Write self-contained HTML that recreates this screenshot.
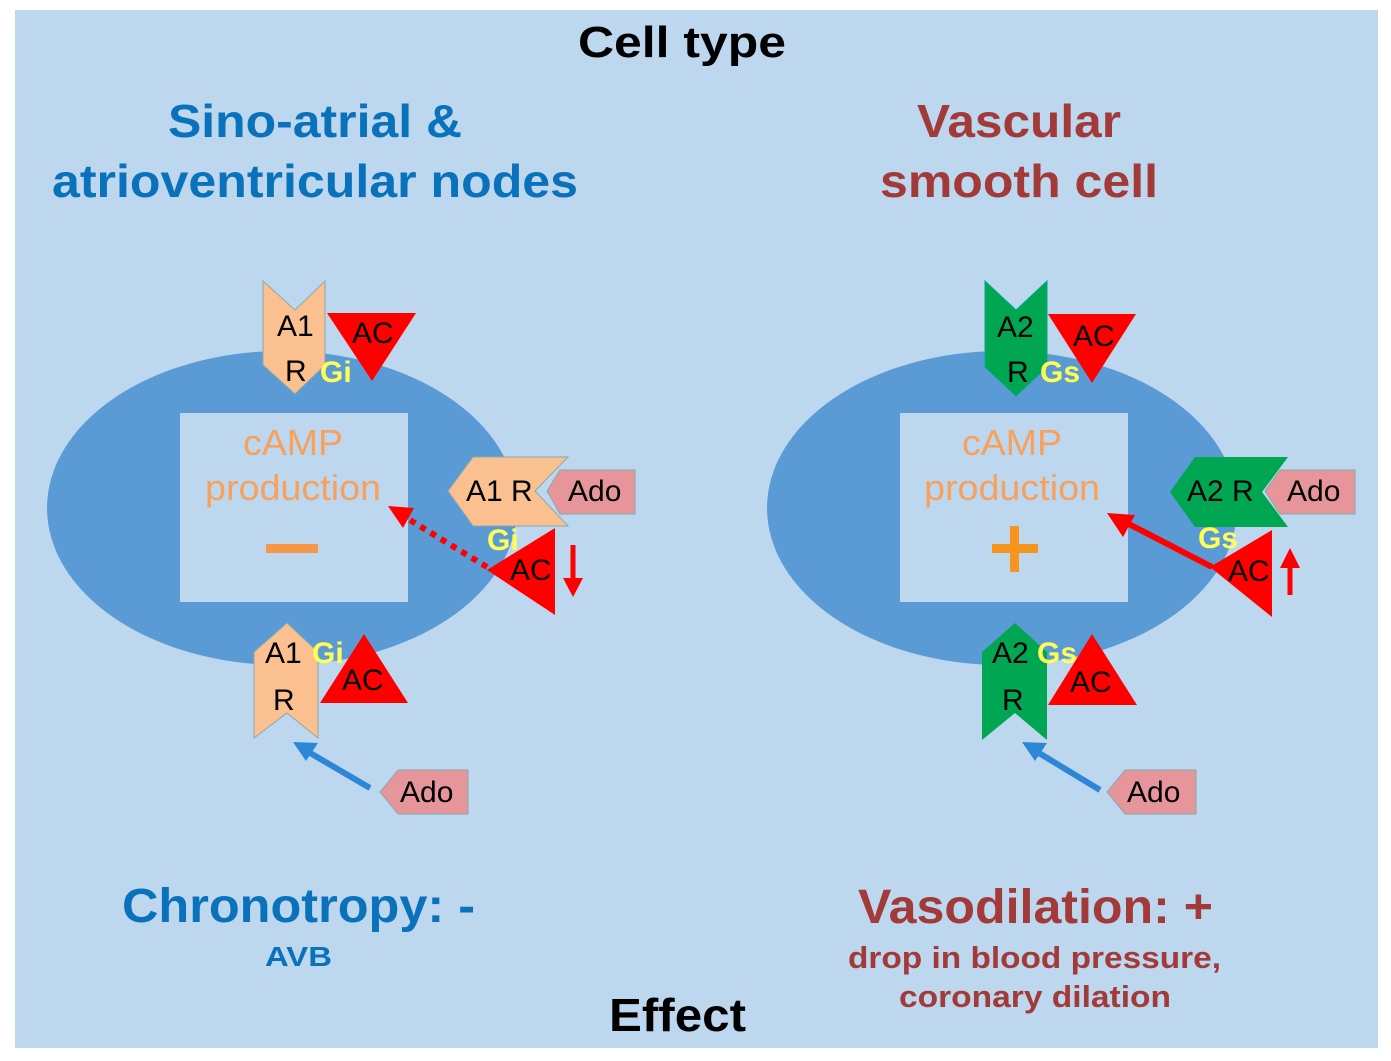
<!DOCTYPE html>
<html><head><style>body{margin:0;background:#fff}svg{display:block}text{font-family:"Liberation Sans",sans-serif}</style></head><body>
<svg width="1391" height="1061" viewBox="0 0 1391 1061">
<rect x="15" y="10" width="1363" height="1038" fill="#bdd7ee"/>
<text x="578" y="57" font-size="44" font-weight="bold" textLength="208" lengthAdjust="spacingAndGlyphs">Cell type</text>
<g font-weight="bold" font-size="46">
<text x="168" y="137" fill="#0a72bb" textLength="294" lengthAdjust="spacingAndGlyphs">Sino-atrial &amp;</text>
<text x="52" y="197" fill="#0a72bb" textLength="526" lengthAdjust="spacingAndGlyphs">atrioventricular nodes</text>
<text x="917" y="137" fill="#a33a3a" textLength="204" lengthAdjust="spacingAndGlyphs">Vascular</text>
<text x="880" y="197" fill="#a33a3a" textLength="278" lengthAdjust="spacingAndGlyphs">smooth cell</text>
</g>
<!-- left -->
<ellipse cx="282" cy="508" rx="235" ry="157" fill="#5b9bd5"/>
<rect x="180" y="413" width="228" height="189" fill="#bdd7ee"/>
<g fill="#f7a15c" font-size="36"><text x="243" y="455" textLength="100" lengthAdjust="spacingAndGlyphs">cAMP</text><text x="205" y="500" textLength="176" lengthAdjust="spacingAndGlyphs">production</text></g>
<rect x="266" y="544" width="52" height="9" fill="#f79646"/>
<polygon points="263,281 295,310 325,281 325,365 295,394 263,365" fill="#fbc08f" stroke="#8aa" stroke-width="1"/>
<polygon points="327,313 416,313 372,381" fill="red"/>
<g font-size="30"><text x="277" y="336">A1</text><text x="285" y="381">R</text><text x="352" y="343">AC</text></g>
<text x="320" y="382" font-size="30" font-weight="bold" fill="#ffff55">Gi</text>
<polygon points="448,491 473,457 568,457 535,491 568,526 473,526" fill="#fbc08f" stroke="#8aa" stroke-width="1"/>
<polygon points="547,491 560,470 635,470 635,514 560,514" fill="#e6959a" stroke="#8aa" stroke-width="1"/>
<g font-size="30"><text x="466" y="501">A1 R</text><text x="568" y="501">Ado</text></g>
<polygon points="487,570 555,528 555,615" fill="red"/>
<line x1="487" y1="567" x2="405" y2="517" stroke="red" stroke-width="6" stroke-dasharray="6,6"/>
<polygon points="388,506 414,508 403,528" fill="red"/>
<text x="487" y="550" font-size="30" font-weight="bold" fill="#ffff55">Gi</text>
<text x="510" y="580" font-size="30">AC</text>
<line x1="573" y1="545" x2="573" y2="580" stroke="red" stroke-width="5"/><polygon points="563,578 583,578 573,597" fill="red"/>
<polygon points="287,623 318,652 318,738 287,713 254,738 254,652" fill="#fbc08f" stroke="#8aa" stroke-width="1"/>
<polygon points="320,703 408,703 364,634" fill="red"/>
<g font-size="30"><text x="265" y="663">A1</text><text x="273" y="710">R</text><text x="342" y="690">AC</text></g>
<text x="312" y="663" font-size="30" font-weight="bold" fill="#ffff55">Gi</text>
<line x1="370" y1="788" x2="305" y2="750" stroke="#2e86d6" stroke-width="6"/><polygon points="293,742 318,743 306,761" fill="#2e86d6"/>
<polygon points="380,792 398,770 468,770 468,814 398,814" fill="#e6959a" stroke="#8aa" stroke-width="1"/>
<text x="400" y="802" font-size="30">Ado</text>
<!-- right -->
<ellipse cx="1002" cy="508" rx="235" ry="157" fill="#5b9bd5"/>
<rect x="900" y="413" width="228" height="189" fill="#bdd7ee"/>
<g fill="#f7a15c" font-size="36"><text x="962" y="455" textLength="100" lengthAdjust="spacingAndGlyphs">cAMP</text><text x="924" y="500" textLength="176" lengthAdjust="spacingAndGlyphs">production</text></g>
<rect x="992" y="544" width="46" height="9" fill="#f7941d"/><rect x="1010" y="526" width="9" height="46" fill="#f7941d"/>
<polygon points="985,281 1016,310 1047,281 1047,367 1016,396 985,367" fill="#00a651" stroke="#0a8" stroke-width="1"/>
<polygon points="1048,314 1136,314 1092,383" fill="red"/>
<g font-size="30"><text x="997" y="337">A2</text><text x="1007" y="382">R</text><text x="1073" y="346">AC</text></g>
<text x="1040" y="382" font-size="30" font-weight="bold" fill="#ffff55">Gs</text>
<polygon points="1170,492 1195,457 1288,457 1262,492 1288,527 1195,527" fill="#00a651"/>
<polygon points="1265,491 1280,470 1355,470 1355,514 1280,514" fill="#e6959a" stroke="#8aa" stroke-width="1"/>
<g font-size="30"><text x="1187" y="501">A2 R</text><text x="1287" y="501">Ado</text></g>
<polygon points="1210,567 1272,530 1272,617" fill="red"/>
<line x1="1212" y1="567" x2="1125" y2="522" stroke="red" stroke-width="6"/><polygon points="1107,513 1135,515 1123,537" fill="red"/>
<text x="1198" y="548" font-size="30" font-weight="bold" fill="#ffff55">Gs</text>
<text x="1228" y="581" font-size="30">AC</text>
<line x1="1290" y1="595" x2="1290" y2="565" stroke="red" stroke-width="5"/><polygon points="1280,568 1300,568 1290,548" fill="red"/>
<polygon points="1015,623 1047,652 1047,740 1015,713 982,740 982,652" fill="#00a651"/>
<polygon points="1048,705 1137,705 1092,634" fill="red"/>
<g font-size="30"><text x="992" y="663">A2</text><text x="1002" y="710">R</text><text x="1070" y="692">AC</text></g>
<text x="1037" y="663" font-size="30" font-weight="bold" fill="#ffff55">Gs</text>
<line x1="1100" y1="790" x2="1034" y2="750" stroke="#2e86d6" stroke-width="6"/><polygon points="1022,742 1047,743 1035,761" fill="#2e86d6"/>
<polygon points="1107,792 1125,770 1196,770 1196,814 1125,814" fill="#e6959a" stroke="#8aa" stroke-width="1"/>
<text x="1127" y="802" font-size="30">Ado</text>
<!-- effects -->
<g font-weight="bold" lengthAdjust="spacingAndGlyphs">
<text x="122" y="922" font-size="48" fill="#0a72bb" textLength="353" lengthAdjust="spacingAndGlyphs">Chronotropy: -</text>
<text x="265" y="966" font-size="28" fill="#0a72bb" textLength="67" lengthAdjust="spacingAndGlyphs">AVB</text>
<text x="858" y="923" font-size="48" fill="#a33a3a" textLength="355" lengthAdjust="spacingAndGlyphs">Vasodilation: +</text>
<text x="848" y="968" font-size="31" fill="#a33a3a" textLength="373" lengthAdjust="spacingAndGlyphs">drop in blood pressure,</text>
<text x="899" y="1007" font-size="31" fill="#a33a3a" textLength="272" lengthAdjust="spacingAndGlyphs">coronary dilation</text>
<text x="609" y="1031" font-size="46" fill="#000" textLength="137" lengthAdjust="spacingAndGlyphs">Effect</text>
</g>
</svg>
</body></html>
